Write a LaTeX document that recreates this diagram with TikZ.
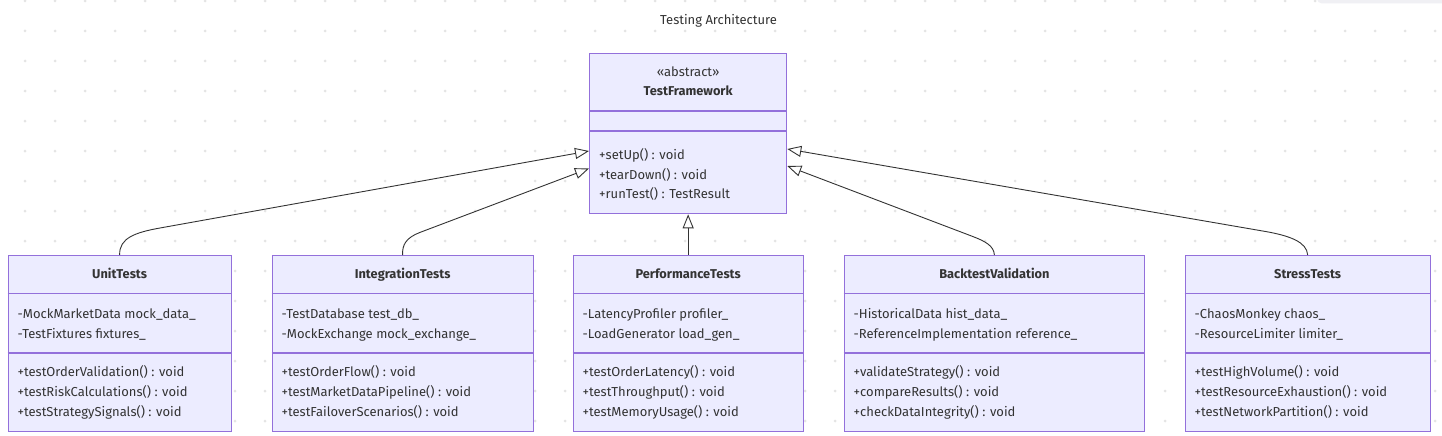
\documentclass[tikz,border=0pt]{standalone}
\usepackage{fontspec}
\setmainfont{Fira Sans}
\usetikzlibrary{arrows.meta}
\definecolor{boxfill}{HTML}{ECECFF}
\definecolor{boxline}{HTML}{9370DB}
\definecolor{txt}{HTML}{333333}
\definecolor{dotc}{HTML}{E4E4E4}
\definecolor{barc}{HTML}{F0F0F4}
\tikzset{
  box/.style={draw=boxline, fill=boxfill, line width=1.3pt, anchor=north west, inner sep=0pt, minimum height=176pt},
  divider/.style={draw=boxline, line width=1.3pt},
  lbl/.style={text=txt, font=\fontsize{13}{15}\selectfont, inner sep=0pt},
  mem/.style={lbl, anchor=base west},
  ttl/.style={lbl, anchor=base, font=\fontsize{12.8}{15}\selectfont\bfseries},
  conn/.style={draw=txt, line width=0.9pt, -{Triangle[open, length=14pt, width=11pt, fill=white]}},
}
\newcommand\umlclass[9]{%
  \node[box, minimum width=#3pt] (#1) at (#2,255) {};
  \draw[divider] (#1.north west |- 0,293.5) -- (#1.north east |- 0,293.5);
  \draw[divider] (#1.north west |- 0,353) -- (#1.north east |- 0,353);
  \node[ttl] (#1-t) at (#1.north |- 0,278.5) {#4};
  \node[mem] (#1-a1) at ([xshift=10pt]#1.north west |- 0,318.5) {#5};
  \node[mem] (#1-a2) at ([xshift=10pt]#1.north west |- 0,338) {#6};
  \node[mem] (#1-m1) at ([xshift=10pt]#1.north west |- 0,376.5) {#7};
  \node[mem] (#1-m2) at ([xshift=10pt]#1.north west |- 0,396.2) {#8};
  \node[mem] (#1-m3) at ([xshift=10pt]#1.north west |- 0,416) {#9};
}
\begin{document}
\begin{tikzpicture}[x=1pt, y=-1pt]
\useasboundingbox (0,0) rectangle (1442,436);
\fill[white] (0,0) rectangle (1442,436);
% dotted grid background
\foreach \i in {0,...,47} {
  \foreach \j in {0,...,14} {
    \fill[dotc] (25+30*\i, 1+30*\j) circle (1.5);
  }
}
% top-right bar
\fill[barc, rounded corners=5pt] (1317,-10) rectangle (1452,3.5);
% title
\node[lbl, font=\fontsize{13}{15}\selectfont] (title) at (718.5,21) {Testing Architecture};
% abstract class
\node[box, minimum width=197pt, minimum height=160pt] (tf) at (589,53) {};
\draw[divider] (tf.north west |- 0,111) -- (tf.north east |- 0,111);
\draw[divider] (tf.north west |- 0,131) -- (tf.north east |- 0,131);
\node[lbl, anchor=base] (tf-s) at (tf.north |- 0,76.5) {«abstract»};
\node[ttl] (tf-t) at (tf.north |- 0,95.5) {TestFramework};
\node[mem] (tf-m1) at ([xshift=10pt]tf.north west |- 0,159.5) {+setUp() : void};
\node[mem] (tf-m2) at ([xshift=10pt]tf.north west |- 0,179) {+tearDown() : void};
\node[mem] (tf-m3) at ([xshift=10pt]tf.north west |- 0,198.5) {+runTest() : TestResult};
% subclasses
\umlclass{u}{7.5}{223}{UnitTests}{-MockMarketData mock\_data\_}{-TestFixtures fixtures\_}{+testOrderValidation() : void}{+testRiskCalculations() : void}{+testStrategySignals() : void}
\umlclass{i}{271.5}{261}{IntegrationTests}{-TestDatabase test\_db\_}{-MockExchange mock\_exchange\_}{+testOrderFlow() : void}{+testMarketDataPipeline() : void}{+testFailoverScenarios() : void}
\umlclass{p}{572.5}{230}{PerformanceTests}{-LatencyProfiler profiler\_}{-LoadGenerator load\_gen\_}{+testOrderLatency() : void}{+testThroughput() : void}{+testMemoryUsage() : void}
\umlclass{b}{843.5}{300.5}{BacktestValidation}{-HistoricalData hist\_data\_}{-ReferenceImplementation reference\_}{+validateStrategy() : void}{+compareResults() : void}{+checkDataIntegrity() : void}
\umlclass{s}{1184.5}{245}{StressTests}{-ChaosMonkey chaos\_}{-ResourceLimiter limiter\_}{+testHighVolume() : void}{+testResourceExhaustion() : void}{+testNetworkPartition() : void}
% arrow end points on the abstract class
\coordinate (tfU) at (tf.north west |- 0,151);
\coordinate (tfI) at (tf.north west |- 0,168.5);
\coordinate (tfB) at (tf.north east |- 0,166);
\coordinate (tfS) at (tf.north east |- 0,149);
% inheritance connectors
\draw[conn] (u.north) .. controls (119,238) and (135.4,232.4) .. (160,228) -- (tfU);
\draw[conn] (i.north) .. controls (402,245) and (406,237.7) .. (420,232.4) -- (tfI);
\draw[conn] (p.north) -- (tf.south);
\draw[conn] (b.north) .. controls (993.75,246) and (986,241.5) .. (972,236.2) -- (tfB);
\draw[conn] (s.north) .. controls (1307,242) and (1289.6,235.7) .. (1265,231.4) -- (tfS);
\end{tikzpicture}
\end{document}
